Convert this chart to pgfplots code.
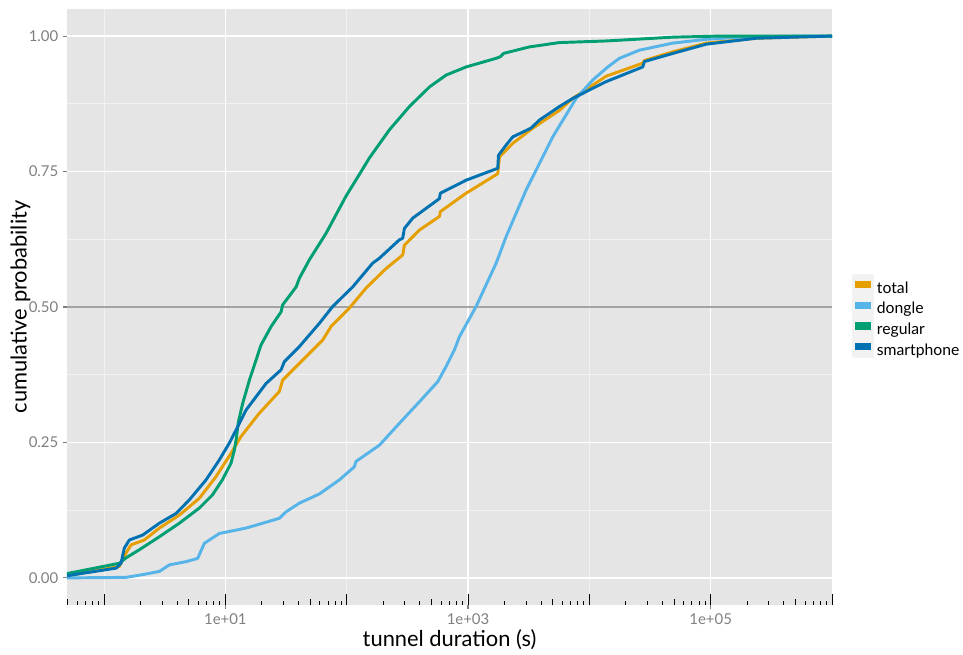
\documentclass[border=0pt]{standalone}
\usepackage{fontspec}
\setmainfont{Lato}
\usepackage{pgfplots}
\pgfplotsset{compat=1.18}
\definecolor{ctotal}{HTML}{E69F00}
\definecolor{cdongle}{HTML}{56B4E9}
\definecolor{cregular}{HTML}{009E73}
\definecolor{csmart}{HTML}{0072B2}
\definecolor{panelbg}{HTML}{E5E5E5}
\definecolor{minorgrid}{HTML}{F2F2F2}
\definecolor{keybg}{HTML}{F2F2F2}
\definecolor{ticklab}{HTML}{7F7F7F}
\definecolor{tickcol}{HTML}{7F7F7F}
\definecolor{hlinecol}{HTML}{A3A3A3}
\begin{document}
\begin{tikzpicture}
\useasboundingbox (-50.25pt,-37.5pt) rectangle (672pt,453.75pt);
\begin{axis}[
  at={(0pt,0pt)}, anchor=south west,
  scale only axis, width=573.75pt, height=447pt,
  xmode=log, log basis x=10,
  xmin=0.495, xmax=1000000, ymin=-0.05, ymax=1.05,
  clip=false,
  axis background/.style={fill=panelbg},
  axis x line*=bottom, axis y line*=left,
  axis line style={draw=none},
  tick align=outside, major tick length=3pt, minor tick length=0pt,
  tick style={color=tickcol, line width=0.8pt},
  minor tick style={draw=none},
  xtick={10,1000,100000}, xticklabels={1e+01,1e+03,1e+05},
  ytick={0,0.25,0.5,0.75,1}, yticklabels={0.00,0.25,0.50,0.75,1.00},
  minor xtick={1,100,10000}, minor ytick={0.125,0.375,0.625,0.875},
  grid=both,
  major grid style={white, line width=1.1pt},
  minor grid style={minorgrid, line width=0.7pt},
  ticklabel style={font=\fontsize{11.2}{13}\selectfont, text=ticklab},
  xlabel={tunnel duration (s)},
  ylabel={cumulative probability},
  every axis x label/.style={at={(axis description cs:0.5,-0.0587)}, anchor=center, font=\fontsize{16.4}{18}\selectfont},
  every axis y label/.style={at={(axis description cs:-0.061,0.5)}, anchor=center, rotate=90, font=\fontsize{16.4}{18}\selectfont},
  legend cell align=left,
  legend style={at={(axis description cs:1.0205,0.484)}, anchor=west, draw=none, fill=none,
    font=\fontsize{11.8}{15}\selectfont, row sep=-2pt, column sep=2.5pt,
    nodes={inner sep=0pt, text height=9pt, text depth=3pt}},
  legend image code/.code={
    \fill[keybg] (0pt,-3.5pt) rectangle (14pt,10.5pt);
    \fill[#1,draw=none] (1pt,0.75pt) rectangle (13pt,6.25pt);},
  every axis plot/.append style={line width=2.2pt, line join=round, mark=none},
]
% horizontal reference line at 0.5
\addplot[color=hlinecol, line width=1.2pt, forget plot] coordinates {(0.495,0.5) (1000000,0.5)};
% log ticks (annotation_logticks): long, mid, short
\addplot[black, line width=0.6pt, unbounded coords=jump, forget plot] coordinates {
(1,-0.05) (1,-0.0297) (1,nan)
(10,-0.05) (10,-0.0297) (10,nan)
(100,-0.05) (100,-0.0297) (100,nan)
(1000,-0.05) (1000,-0.0297) (1000,nan)
(10000,-0.05) (10000,-0.0297) (10000,nan)
(100000,-0.05) (100000,-0.0297) (100000,nan)
(1000000,-0.05) (1000000,-0.0297)
};
\addplot[black, line width=0.6pt, unbounded coords=jump, forget plot] coordinates {
(0.5,-0.05) (0.5,-0.039) (0.5,nan)
(5,-0.05) (5,-0.039) (5,nan)
(50,-0.05) (50,-0.039) (50,nan)
(500,-0.05) (500,-0.039) (500,nan)
(5000,-0.05) (5000,-0.039) (5000,nan)
(50000,-0.05) (50000,-0.039) (50000,nan)
(500000,-0.05) (500000,-0.039)
};
\addplot[black, line width=0.6pt, unbounded coords=jump, forget plot] coordinates {
(0.6,-0.05) (0.6,-0.043) (0.6,nan) (0.7,-0.05) (0.7,-0.043) (0.7,nan) (0.8,-0.05) (0.8,-0.043) (0.8,nan) (0.9,-0.05) (0.9,-0.043) (0.9,nan)
(2,-0.05) (2,-0.043) (2,nan) (3,-0.05) (3,-0.043) (3,nan) (4,-0.05) (4,-0.043) (4,nan) (6,-0.05) (6,-0.043) (6,nan) (7,-0.05) (7,-0.043) (7,nan) (8,-0.05) (8,-0.043) (8,nan) (9,-0.05) (9,-0.043) (9,nan)
(20,-0.05) (20,-0.043) (20,nan) (30,-0.05) (30,-0.043) (30,nan) (40,-0.05) (40,-0.043) (40,nan) (60,-0.05) (60,-0.043) (60,nan) (70,-0.05) (70,-0.043) (70,nan) (80,-0.05) (80,-0.043) (80,nan) (90,-0.05) (90,-0.043) (90,nan)
(200,-0.05) (200,-0.043) (200,nan) (300,-0.05) (300,-0.043) (300,nan) (400,-0.05) (400,-0.043) (400,nan) (600,-0.05) (600,-0.043) (600,nan) (700,-0.05) (700,-0.043) (700,nan) (800,-0.05) (800,-0.043) (800,nan) (900,-0.05) (900,-0.043) (900,nan)
(2000,-0.05) (2000,-0.043) (2000,nan) (3000,-0.05) (3000,-0.043) (3000,nan) (4000,-0.05) (4000,-0.043) (4000,nan) (6000,-0.05) (6000,-0.043) (6000,nan) (7000,-0.05) (7000,-0.043) (7000,nan) (8000,-0.05) (8000,-0.043) (8000,nan) (9000,-0.05) (9000,-0.043) (9000,nan)
(20000,-0.05) (20000,-0.043) (20000,nan) (30000,-0.05) (30000,-0.043) (30000,nan) (40000,-0.05) (40000,-0.043) (40000,nan) (60000,-0.05) (60000,-0.043) (60000,nan) (70000,-0.05) (70000,-0.043) (70000,nan) (80000,-0.05) (80000,-0.043) (80000,nan) (90000,-0.05) (90000,-0.043) (90000,nan)
(200000,-0.05) (200000,-0.043) (200000,nan) (300000,-0.05) (300000,-0.043) (300000,nan) (400000,-0.05) (400000,-0.043) (400000,nan) (600000,-0.05) (600000,-0.043) (600000,nan) (700000,-0.05) (700000,-0.043) (700000,nan) (800000,-0.05) (800000,-0.043) (800000,nan) (900000,-0.05) (900000,-0.043)
};
% total
\addplot[color=ctotal] coordinates {
(0.495,0.004) (1.337,0.021) (1.518,0.046) (1.671,0.061) (2.148,0.070) (2.858,0.092)
(4.178,0.116) (6.105,0.147) (8.38,0.187) (11.14,0.230) (13.46,0.261) (19.05,0.304)
(27.86,0.344) (29.66,0.365) (40.74,0.396) (63.4,0.439) (74.3,0.464) (105.2,0.498)
(144.5,0.535) (174.6,0.553) (211.2,0.571) (289.5,0.596) (299.0,0.614) (397.3,0.642)
(580.8,0.667) (591.6,0.676) (964,0.710) (1758,0.746) (1816,0.777) (2337,0.802)
(3414,0.830) (5667,0.863) (7295,0.885) (13770,0.926) (27550,0.950) (28450,0.955)
(48750,0.971) (91800,0.987) (237200,0.996) (1000000,1.0)
};
\addlegendentry{total}
% dongle
\addplot[color=cdongle] coordinates {
(0.495,0.0) (1.518,0.001) (2.081,0.006) (2.858,0.012) (3.453,0.024) (4.742,0.030)
(5.912,0.036) (6.714,0.064) (8.93,0.082) (14.82,0.092) (27.86,0.110) (31.64,0.122)
(40.74,0.138) (59.6,0.155) (87.1,0.181) (115.6,0.205) (119.4,0.215) (186.1,0.245)
(289.5,0.292) (397.3,0.325) (562.3,0.362) (659.2,0.390) (772.7,0.421) (849.2,0.445)
(1166,0.501) (1706,0.581) (2062,0.630) (3013,0.716) (3879,0.765) (4991,0.814)
(7784,0.885) (10670,0.919) (14190,0.943) (17700,0.959) (25880,0.974) (48750,0.987)
(91800,0.994) (172600,0.998) (539500,1.0) (1000000,1.0)
};
\addlegendentry{dongle}
% regular
\addplot[color=cregular] coordinates {
(0.495,0.008) (1.337,0.027) (1.518,0.037) (1.954,0.052) (2.858,0.076) (4.178,0.101)
(6.105,0.129) (7.816,0.153) (9.45,0.181) (11.14,0.212) (11.86,0.236) (12.32,0.258)
(12.80,0.288) (13.89,0.322) (15.78,0.365) (19.68,0.430) (23.83,0.464) (28.78,0.491)
(29.66,0.504) (38.3,0.537) (40.74,0.553) (49.2,0.587) (67.6,0.636) (98.9,0.705)
(131.5,0.750) (153.8,0.775) (225.0,0.827) (328.9,0.870) (480.4,0.906) (659.2,0.928)
(964,0.943) (1706,0.959) (1850,0.962) (1959,0.968) (3207,0.980) (5667,0.988)
(13770,0.991) (48750,0.998) (118300,1.0) (1000000,1.0)
};
\addlegendentry{regular}
% smartphone
\addplot[color=csmart] coordinates {
(0.495,0.004) (1.256,0.018) (1.380,0.027) (1.469,0.055) (1.617,0.070) (2.081,0.079)
(2.858,0.101) (3.924,0.119) (5.047,0.144) (6.934,0.181) (8.93,0.218) (10.79,0.249)
(13.04,0.285) (14.82,0.310) (21.68,0.359) (28.78,0.384) (30.62,0.399) (40.74,0.427)
(59.6,0.470) (76.7,0.501) (112.0,0.537) (163.8,0.581) (186.1,0.590) (271.8,0.624)
(289.5,0.627) (299.0,0.645) (350.2,0.664) (580.8,0.700) (591.6,0.710) (964,0.734)
(1758,0.756) (1782,0.780) (2062,0.799) (2337,0.814) (3300,0.830) (3879,0.845)
(5667,0.870) (7295,0.885) (13770,0.916) (27550,0.943) (28450,0.953) (48750,0.968)
(91800,0.985) (237200,0.996) (1000000,1.0)
};
\addlegendentry{smartphone}
\end{axis}
\end{tikzpicture}
\end{document}
